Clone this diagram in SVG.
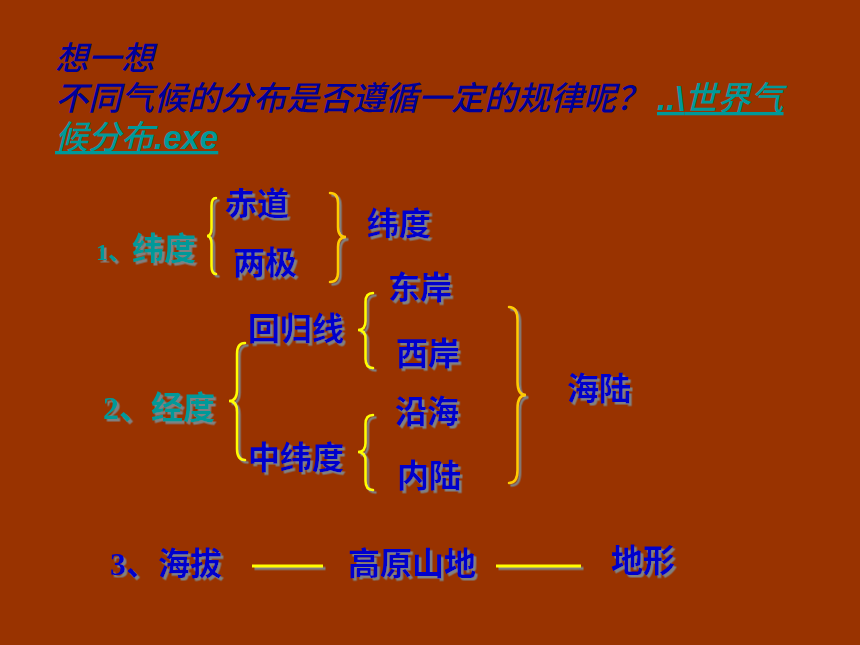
<svg xmlns="http://www.w3.org/2000/svg" width="860" height="645" viewBox="0 0 860 645">
<defs>
<filter id="sh" filterUnits="userSpaceOnUse" x="0" y="0" width="860" height="645">
<feDropShadow dx="2.5" dy="2.5" stdDeviation="0" flood-color="#808080" flood-opacity="1"/>
</filter>
</defs>
<style>
.top{font-family:"Noto Sans CJK SC","Liberation Sans",sans-serif;font-size:33px;font-style:italic;font-weight:500;fill:#000099}
.lnk{fill:#009999;text-decoration:underline}
.lat{font-family:"Liberation Sans","Noto Sans CJK SC",sans-serif;font-weight:bold}
.lb{font-family:"Liberation Serif","Noto Sans CJK SC",serif;font-size:32px;font-weight:bold;fill:#0000CC;filter:url(#sh)}
.tl{fill:#009999}
.br{fill:none;stroke:#FFFF00;stroke-width:2.5;stroke-linecap:round;filter:url(#sh)}
.brg{stroke:#FFCC00}
.ln{stroke:#FFFF00;stroke-width:3;filter:url(#sh)}
</style>
<rect width="860" height="645" fill="#993300"/>

<g id="question">
<text class="top" x="55" y="70">想一想</text>
<text class="top" x="55" y="110">不同气候的分布是否遵循一定的规律呢？<tspan class="lnk" dx="8"><tspan class="lat">..\</tspan>世界气</tspan></text>
<text class="top" x="55" y="149"><tspan class="lnk">候分布<tspan class="lat">.exe</tspan></tspan></text>
</g>

<g id="connectors">
<path class="br" d="M216,198 Q211.5,198 211.5,206 L211.5,228 Q211.5,236 207,236 Q211.5,236 211.5,244 L211.5,266 Q211.5,274 216,274"/>
<path class="br brg" d="M330,193 Q338,193 338,203 L338,227 Q338,237 346,237 Q338,237 338,247 L338,272 Q338,282 330,282"/>
<path class="br" d="M373,293 Q365.5,293 365.5,302 L365.5,321 Q365.5,330 358,330 Q365.5,330 365.5,339 L365.5,359 Q365.5,368 373,368"/>
<path class="br" d="M245,343 Q237,343 237,354 L237,390 Q237,401 229,401 Q237,401 237,412 L237,449 Q237,460 245,460"/>
<path class="br" d="M373,415 Q365.5,415 365.5,424 L365.5,443 Q365.5,452 358,452 Q365.5,452 365.5,461 L365.5,481 Q365.5,490 373,490"/>
<path class="br brg" d="M509,307 Q517.5,307 517.5,320 L517.5,382 Q517.5,395 526,395 Q517.5,395 517.5,408 L517.5,470 Q517.5,483 509,483"/>
<line class="ln" x1="252" y1="566" x2="323" y2="566"/>
<line class="ln" x1="496" y1="566" x2="581" y2="566"/>
</g>

<g id="n-weidu1"><text class="lb tl" x="96" y="260"><tspan font-size="24">1、</tspan>纬度</text></g>
<g id="n-chidao"><text class="lb" x="225" y="215">赤道</text></g>
<g id="n-liangji"><text class="lb" x="233" y="274">两极</text></g>
<g id="n-weidu"><text class="lb" x="367" y="235">纬度</text></g>
<g id="n-dongan"><text class="lb" x="388" y="299">东岸</text></g>
<g id="n-huiguixian"><text class="lb" x="248" y="340">回归线</text></g>
<g id="n-xian"><text class="lb" x="396" y="365">西岸</text></g>
<g id="n-jingdu"><text class="lb tl" x="103" y="419">2、经度</text></g>
<g id="n-yanhai"><text class="lb" x="395" y="423">沿海</text></g>
<g id="n-hailu"><text class="lb" x="567" y="400">海陆</text></g>
<g id="n-zhongweidu"><text class="lb" x="248" y="469">中纬度</text></g>
<g id="n-neilu"><text class="lb" x="397" y="487">内陆</text></g>
<g id="n-haiba"><text class="lb" x="110" y="575">3、海拔</text></g>
<g id="n-gaoyuan"><text class="lb" x="348" y="575">高原山地</text></g>
<g id="n-dixing"><text class="lb" x="611" y="572">地形</text></g>
</svg>
